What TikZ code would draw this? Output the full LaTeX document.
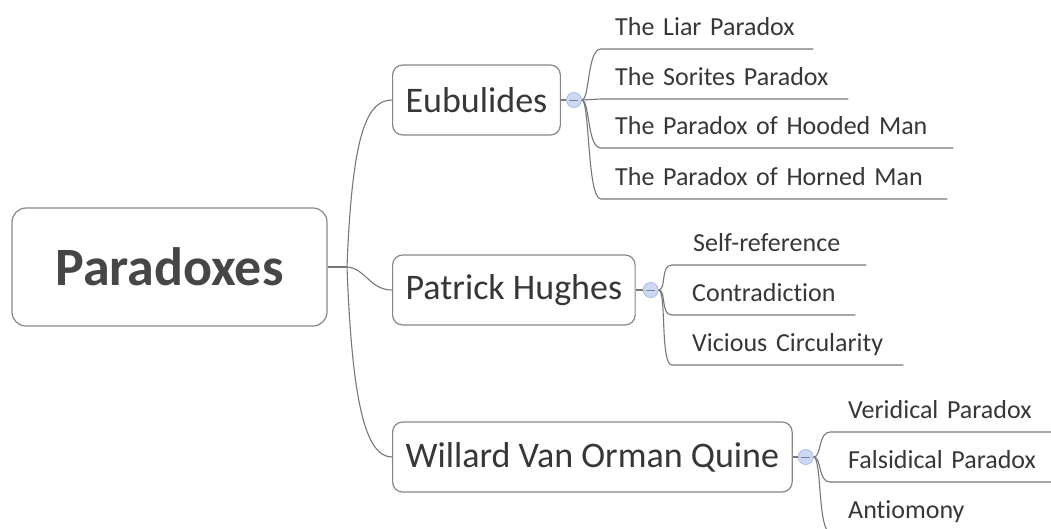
\documentclass[tikz,border=0pt]{standalone}
\usepackage{fontspec}
\setmainfont{Carlito}[Ligatures=NoCommon,RawFeature={-liga}]
\definecolor{boxc}{RGB}{135,135,135}
\definecolor{linec}{RGB}{120,120,120}
\definecolor{txt}{RGB}{55,55,55}
\definecolor{roottxt}{RGB}{70,70,70}
\definecolor{cfill}{RGB}{205,217,243}
\definecolor{cdraw}{RGB}{165,186,228}
\begin{document}
\begin{tikzpicture}[x=1pt,y=-1pt,
 topic/.style={draw=boxc, line width=1.2pt, rounded corners=10pt, fill=white, text=txt, font=\fontsize{36}{40}\selectfont, anchor=west, inner xsep=13pt, minimum height=70pt},
 rootbox/.style={draw=boxc, line width=1.2pt, rounded corners=14pt, text=roottxt, font=\fontsize{54}{58}\selectfont\bfseries, minimum width=315pt, minimum height=118pt},
 leaf/.style={anchor=south west, text=txt, font=\fontsize{26}{30}\selectfont, align=left, inner ysep=0pt, inner xsep=0pt, text height=18pt, text depth=13pt},
 conn/.style={draw=linec, line width=1.1pt},
 knob/.style={circle, draw=cdraw, fill=cfill, minimum size=15pt, inner sep=0pt, line width=0.8pt,
   path picture={\draw[cdraw!70!black, line width=0.7pt] ([xshift=3pt]path picture bounding box.west) -- ([xshift=-3pt]path picture bounding box.east);}}
]
\useasboundingbox (0,0) rectangle (1051,528);
\clip (0,0) rectangle (1051,528);

% root and topics
\node[rootbox] (root) at (169.5,267) {Paradoxes};
\coordinate (hub) at (347,267);
\node[topic] (eub) at (392,100) {Eubulides};
\node[topic] (pat) at (392,290) {Patrick Hughes};
\node[topic] (wil) at (392,457) {Willard Van Orman Quine};

\draw[conn] (root.east) -- (hub);
\draw[conn] (hub) .. controls (352,140) and (365,100) .. (eub.west);
\draw[conn] (hub) .. controls (365,268) and (370,290) .. (pat.west);
\draw[conn] (hub) .. controls (352,400) and (365,457) .. (wil.west);

% knobs
\node[knob] (k1) at ([xshift=13pt]eub.east) {};
\node[knob] (k2) at ([xshift=15pt]pat.east) {};
\node[knob] (k3) at ([xshift=13pt]wil.east) {};
\draw[conn] (eub.east) -- (k1.west);
\draw[conn] (pat.east) -- (k2.west);
\draw[conn] (wil.east) -- (k3.west);

% Eubulides leaves
\node[leaf, text width=212pt] (l1) at (601,49) {\hspace*{14pt}The Liar Paradox};
\node[leaf, text width=247pt] (l2) at (601,99) {\hspace*{14pt}The Sorites Paradox};
\node[leaf, text width=352pt] (l3) at (601,148) {\hspace*{14pt}The Paradox of Hooded Man};
\node[leaf, text width=346pt] (l4) at (601,199) {\hspace*{14pt}The Paradox of Horned Man};
\draw[conn] (k1.east) .. controls +(8,0) and +(-14,0) .. (l1.south west) -- (l1.south east);
\draw[conn] (k1.east) -- (l2.south west) -- (l2.south east);
\draw[conn] (k1.east) .. controls +(8,0) and +(-14,0) .. (l3.south west) -- (l3.south east);
\draw[conn] (k1.east) .. controls +(8,0) and +(-14,0) .. (l4.south west) -- (l4.south east);

% Patrick Hughes leaves
\node[leaf, text width=194pt] (p1) at (672,265) {\hspace*{21pt}Self-reference};
\node[leaf, text width=183pt] (p2) at (672,315) {\hspace*{20pt}Contradiction};
\node[leaf, text width=231pt] (p3) at (672,365) {\hspace*{20pt}Vicious Circularity};
\draw[conn] (k2.east) .. controls +(8,0) and +(-12,0) .. (p1.south west) -- (p1.south east);
\draw[conn] (k2.east) .. controls +(8,0) and +(-12,0) .. (p2.south west) -- (p2.south east);
\draw[conn] (k2.east) .. controls +(8,0) and +(-12,0) .. (p3.south west) -- (p3.south east);

% Quine leaves
\node[leaf, text width=240pt] (w1) at (830,432) {\hspace*{18pt}Veridical Paradox};
\node[leaf, text width=240pt] (w2) at (830,482) {\hspace*{18pt}Falsidical Paradox};
\node[leaf, text width=240pt] (w3) at (830,532) {\hspace*{18pt}Antiomony};
\draw[conn] (k3.east) .. controls +(8,0) and +(-12,0) .. (w1.south west) -- (w1.south east);
\draw[conn] (k3.east) .. controls +(8,0) and +(-12,0) .. (w2.south west) -- (w2.south east);
\draw[conn] (k3.east) .. controls +(8,0) and +(-12,0) .. (w3.south west) -- (w3.south east);
\end{tikzpicture}
\end{document}
